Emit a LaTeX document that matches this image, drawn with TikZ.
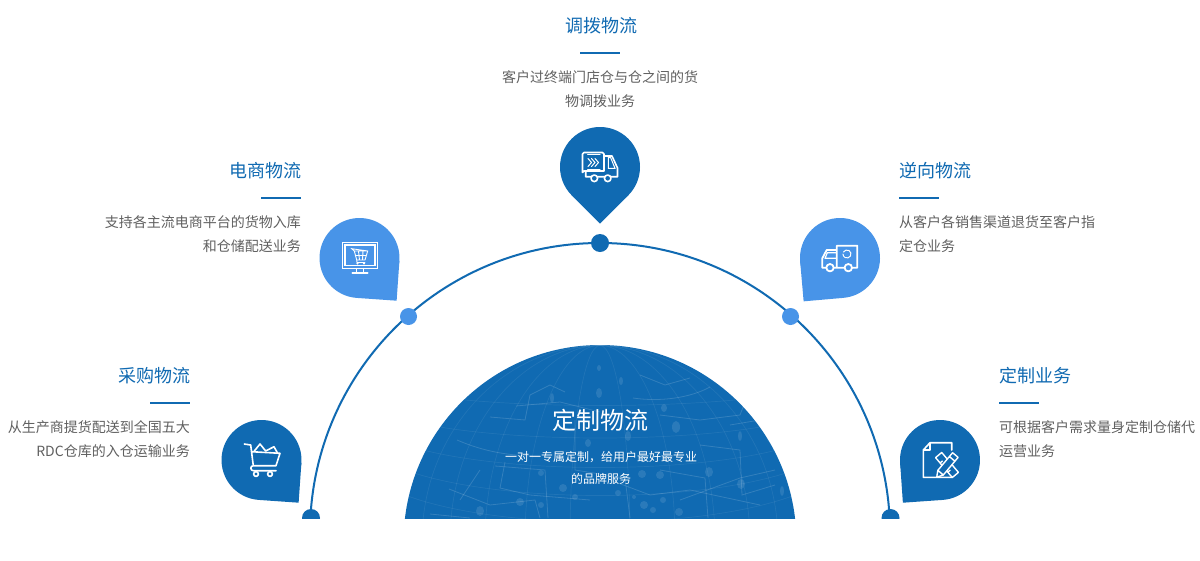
\documentclass[tikz,border=0pt]{standalone}
\usepackage{fontspec}
\setmainfont{Noto Sans CJK SC}
\definecolor{deep}{RGB}{16,106,178}
\definecolor{sky}{RGB}{72,148,232}
\definecolor{ttl}{RGB}{16,106,178}
\definecolor{txt}{RGB}{96,96,96}
\tikzset{
 title/.style={inner sep=0pt,text=ttl,font=\fontsize{18}{18}\selectfont},
 desc/.style={inner sep=0pt,text=txt,font=\fontsize{14}{14}\selectfont},
 rulebar/.style={draw=deep,line width=2pt},
 ico/.style={draw=white,line width=1.6pt,line join=round,line cap=round},
 icothin/.style={draw=white,line width=1pt,line cap=round},
 net/.style={draw=white,draw opacity=.15,line width=.8pt},
 netfaint/.style={draw=white,draw opacity=.07,line width=.7pt},
 netdot/.style={fill=white,fill opacity=.11},
 dotnode/.style={circle,inner sep=0pt,minimum size=18pt},
}
\newcommand{\pinshape}[4]{%
 \begin{scope}[shift={(#1,#2)},rotate=#3]
  \fill[#4] (0,0) circle[radius=40pt];
  \fill[#4] (0,0) rectangle (40,40);
 \end{scope}}
\begin{document}
\begin{tikzpicture}[x=1pt,y=-1pt]
\useasboundingbox (0,0) rectangle (1200,560);
\fill[white] (0,0) rectangle (1200,560);
% big arc
\begin{scope}
 \clip (0,0) rectangle (1200,518);
 \draw[deep,line width=2pt] (600,533) circle[radius=290pt];
 \node[dotnode,fill=deep] (dotL) at (311,518) {};
 \node[dotnode,fill=deep] (dotR) at (890.5,518) {};
\end{scope}
\node[dotnode,fill=deep] (dotT) at (600,243) {};
\node[dotnode,fill=sky,minimum size=17pt] (dotA) at (408.5,316.5) {};
\node[dotnode,fill=sky,minimum size=17pt] (dotB) at (790.5,316.5) {};
% inner globe
\begin{scope}
 \clip (400,340) rectangle (800,518.5);
 \fill[deep] (600,541.4) circle[radius=196.4pt];
 \clip (600,541.4) circle[radius=196.4pt];
 \foreach \r in {30,75,115,150,178}{
  \draw[netfaint] (600,541.4) ellipse[x radius=\r pt,y radius=196pt];
 }
 \foreach \y/\b in {392/18,420/24,445/30,470/34,495/36}{
  \pgfmathsetmacro{\yy}{\y+\b}
  \draw[netfaint] (405,\y) .. controls (500,\yy) and (700,\yy) .. (795,\y);
 }
 \draw[net] (457,440) .. controls (485,452) and (510,456) .. (540,456);
 \draw[net] (505,462) -- (500,488) -- (530,495) -- (590,500);
 \draw[net] (449,489) -- (490,505) -- (535,500) -- (540,518);
 \draw[net] (495,466) -- (545,470) -- (548,518);
 \draw[net] (490,417) -- (525,420) -- (530,395) -- (550,385) -- (565,392);
 \draw[net] (516,406) -- (560,402) -- (600,412);
 \draw[net] (633,398) .. controls (660,402) and (690,398) .. (710,387);
 \draw[net] (640,375) -- (665,385) -- (690,378);
 \draw[net] (660,415) -- (700,420) -- (740,415) -- (745,402);
 \draw[net] (730,425) -- (760,420) -- (768,440) -- (790,465);
 \draw[net] (700,445) -- (740,450) -- (742,495) -- (775,485);
 \draw[net] (660,470) -- (705,478) -- (708,518);
 \draw[net] (610,480) -- (650,495) -- (690,490) -- (760,505);
 \draw[net] (460,500) -- (480,470);
 \draw[net] (575,420) -- (575,470) -- (625,478) -- (630,518);
 \draw[net] (430,514) -- (470,518);
 \draw[net] (680,500) -- (740,478) -- (775,470);
 \foreach \x/\y/\a/\b in {480/511/4/5,520/502/4/4,644/505/4/4,679/512/4/4,653/510/3/3,563/488/4/4,541/473/3/3,642/474/4/4,660/475/4/4,709/472/4/5,741/484/4/5,676/427/4/6,628/436/3/5,599/393/3/5,552/398/2/5,621/381/2/4,599/368/2/3,664/408/3/4,740/436/2/5,782/491/2/5,663/500/3/3,634/497/2/2,575/497/3/3,541/505/3/3,588/443/3/4,618/493/3/3}{
  \fill[netdot] (\x,\y) ellipse[x radius=\a pt,y radius=\b pt];
 }
\end{scope}
\node[inner sep=0pt,text=white,font=\fontsize{24}{24}\selectfont] (mainT) at (600,420) {定制物流};
\node[inner sep=0pt,text=white,font=\fontsize{12}{12}\selectfont] (mainA) at (601,457) {一对一专属定制，给用户最好最专业};
\node[inner sep=0pt,text=white,font=\fontsize{12}{12}\selectfont] (mainB) at (601,479) {的品牌服务};
% pins
\pinshape{600}{167}{-45}{deep}
\pinshape{359.5}{258}{-4}{sky}
\pinshape{840}{258}{-85}{sky}
\pinshape{261.5}{460}{-4}{deep}
\pinshape{940}{460}{-86}{deep}
% truck 1
\draw[ico] (585.7,171) -- (584,171) arc[start angle=90,end angle=180,radius=1.5pt] -- (582.5,154) arc[start angle=180,end angle=90,radius=1.5pt] -- (602.5,152.5) arc[start angle=90,end angle=0,radius=1.5pt] -- (604,171) -- (585.7,171) -- (585.7,176.7) -- (591,176.7);
\draw[ico] (597.7,176.7) -- (604.4,176.7) (611,176.7) -- (617.5,176.7) -- (617.5,168) -- (612,156) -- (604,156);
\draw[ico] (594.3,178.3) circle[radius=3.3pt] (607.7,178.3) circle[radius=3.3pt];
\draw[icothin] (587.7,154.5) -- (600,154.5) (587.7,169.3) -- (600,169.3);
\draw[icothin] (608.3,157.7) -- (610.7,157.7) -- (615,168.3) -- (608.3,168.3) -- cycle;
\foreach \d in {0,3.5,7}{
 \draw[icothin] (588+\d,158.5) -- (591.5+\d,162.5) -- (588+\d,166.5);
}
% monitor
\draw[icothin,line width=1.1pt] (342.3,242.3) rectangle (377.7,268.3) (345,245) rectangle (375,265.7);
\draw[icothin] (356.7,268.3) -- (356.7,272.5) (363,268.3) -- (363,272.5);
\draw[ico] (352.3,273) -- (367.7,273);
\draw[icothin,line width=.9pt] (351.7,248.7) -- (354.3,251) -- (356.7,260) -- (365,260) -- (367.7,251) -- cycle (354.3,251) -- (367.7,251) (355.3,255.5) -- (366.3,255.5) (358.5,251) -- (359.5,260) (363,251) -- (362.5,260) (356.7,260) -- (357,262.5) -- (365,262.5);
\fill[white] (357.5,263.5) circle[radius=1.2pt] (364,263.5) circle[radius=1.2pt];
% reverse truck
\draw[ico,line width=1.8pt] (836.7,267.7) -- (836.7,245.7) -- (857.3,245.7) -- (857.3,267.7) -- (852.5,267.7) (844,267.7) -- (834.3,267.7) (825.7,267.7) -- (822.3,267.7) -- (822.3,258.3) -- (826.7,250) -- (836.7,250);
\draw[ico,line width=1.8pt] (830,267.7) circle[radius=3.7pt] (848.3,267.7) circle[radius=3.7pt];
\draw[icothin,line width=1.2pt] (825,258.3) -- (827.3,252.7) -- (836,252.7) (825,258.3) -- (836,258.3);
\draw[icothin] (843.5,252) arc[start angle=150,end angle=-180,radius=4pt];
% shopping cart
\draw[ico] (244.3,444) -- (250.7,445) -- (253.3,465.7) (251.7,451.7) -- (280,453.3) -- (276,465.7) -- (253.3,465.7) arc[start angle=90,end angle=270,radius=2.5pt] -- (276,470.7);
\draw[ico] (256,474) circle[radius=2.4pt] (270,474) circle[radius=2.4pt];
\draw[ico] (254.3,451) -- (260,444) -- (265.7,451) -- (274,446.7) -- (277.3,452.7);
% document
\draw[ico] (951.7,450) -- (951.7,442.7) -- (930,442.7) -- (923.3,450) -- (923.3,477.3) -- (951.7,477.3) (930,442.7) -- (930,450) -- (923.3,450);
\begin{scope}[shift={(947,465)},rotate=40]
 \draw[ico,line width=1.4pt,fill=deep] (-4,-13) rectangle (4,13) (-4,-6) -- (-1,-6) (-4,0) -- (-1,0) (-4,6) -- (-1,6);
\end{scope}
\begin{scope}[shift={(947,465)},rotate=-40]
 \draw[ico,line width=1.4pt,fill=deep] (-3.6,10) -- (0,16) -- (3.6,10) -- (3.6,-13) -- (-3.6,-13) -- cycle (-3.6,-8) -- (3.6,-8) (-3.6,10) -- (3.6,10);
\end{scope}
% texts
\node[title] (t1) at (601,26) {调拨物流};
\draw[rulebar] (580,52.5) -- (620,52.5);
\node[desc] (d1a) at (600,77) {客户过终端门店仓与仓之间的货};
\node[desc] (d1b) at (600,101) {物调拨业务};
\node[title,anchor=east] (t2) at (301.5,171) {电商物流};
\draw[rulebar] (261,198) -- (301,198);
\node[desc,anchor=east] (d2a) at (301,222) {支持各主流电商平台的货物入库};
\node[desc,anchor=east] (d2b) at (301,246) {和仓储配送业务};
\node[title,anchor=west] (t3) at (899.5,171) {逆向物流};
\draw[rulebar] (899,198) -- (939,198);
\node[desc,anchor=west] (d3a) at (899,222) {从客户各销售渠道退货至客户指};
\node[desc,anchor=west] (d3b) at (899,246) {定仓业务};
\node[title,anchor=east] (t4) at (190.5,376) {采购物流};
\draw[rulebar] (150,403) -- (190,403);
\node[desc,anchor=east] (d4a) at (190,427) {从生产商提货配送到全国五大};
\node[desc,anchor=east] (d4b) at (190,451) {RDC仓库的入仓运输业务};
\node[title,anchor=west] (t5) at (999.5,376) {定制业务};
\draw[rulebar] (999,403) -- (1039,403);
\node[desc,anchor=west] (d5a) at (999,427) {可根据客户需求量身定制仓储代};
\node[desc,anchor=west] (d5b) at (999,451) {运营业务};
\end{tikzpicture}
\end{document}
